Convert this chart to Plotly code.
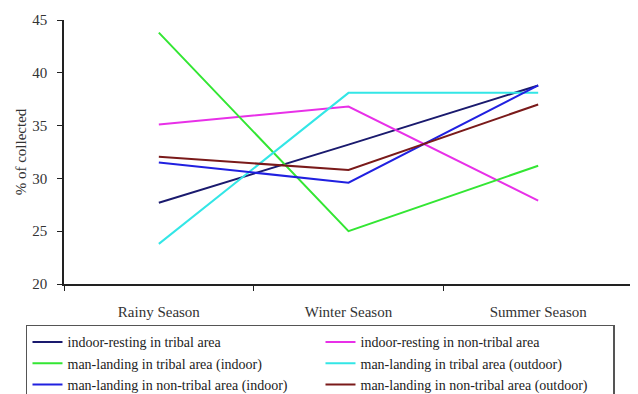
import plotly.graph_objects as go

seasons = ["Rainy Season", "Winter Season", "Summer Season"]
series_names = [
    "indoor-resting in tribal area",
    "indoor-resting in non-tribal area",
    "man-landing in tribal area (indoor)",
    "man-landing in tribal area (outdoor)",
    "man-landing in non-tribal area (indoor)",
    "man-landing in non-tribal area (outdoor)",
]
indoor_resting_tribal = [27.7, 33.2, 38.8]
indoor_resting_nontribal = [35.1, 36.8, 27.9]
man_landing_tribal_indoor = [43.8, 25.0, 31.2]
man_landing_tribal_outdoor = [23.8, 38.1, 38.1]
man_landing_nontribal_indoor = [31.5, 29.6, 38.8]
man_landing_nontribal_outdoor = [32.05, 30.8, 37.0]
y_ticks = [20, 25, 30, 35, 40, 45]

values = [
    indoor_resting_tribal,
    indoor_resting_nontribal,
    man_landing_tribal_indoor,
    man_landing_tribal_outdoor,
    man_landing_nontribal_indoor,
    man_landing_nontribal_outdoor,
]
colors = ["#1a1a6e", "#e830e8", "#33e633", "#33e6e6", "#2020e0", "#7a1a1a"]

fig = go.Figure()
for name, vals, c in zip(series_names, values, colors):
    fig.add_trace(go.Scatter(x=seasons, y=vals, name=name, mode="lines",
                             line=dict(color=c, width=2)))

font_family = "Liberation Serif"
# page body has an 8px default margin, so the figure is sized 8px smaller
fig.update_layout(
    width=630, height=386,
    margin=dict(l=56, r=5, t=12, b=110, autoexpand=False),
    paper_bgcolor="white", plot_bgcolor="white",
    font=dict(family=font_family, size=15, color="#333333"),
    showlegend=True,
    legend=dict(
        orientation="h", x=-0.0668, xanchor="left", y=-0.155, yanchor="top",
        entrywidth=248, entrywidthmode="pixels",
        bordercolor="#555555", borderwidth=1.5,
        font=dict(family=font_family, size=14, color="#222222"),
        tracegroupgap=0, itemwidth=30,
    ),
    xaxis=dict(
        range=[-0.5, 2.5], automargin=False,
        showline=True, linecolor="#222222", linewidth=1.5,
        ticks="outside", tickson="boundaries", ticklen=5, tickcolor="#222222",
        showgrid=False, ticklabelstandoff=13,
        tickfont=dict(family=font_family, size=15),
    ),
    yaxis=dict(
        range=[20, 45], tickvals=y_ticks, automargin=False,
        showline=True, linecolor="#222222", linewidth=1.5,
        ticks="outside", ticklen=5, tickcolor="#222222",
        showgrid=False, zeroline=False, ticklabelstandoff=7,
        title=dict(text="% of collected", font=dict(family=font_family, size=15), standoff=2),
        tickfont=dict(family=font_family, size=15),
    ),
)

fig.write_html("out.html")
